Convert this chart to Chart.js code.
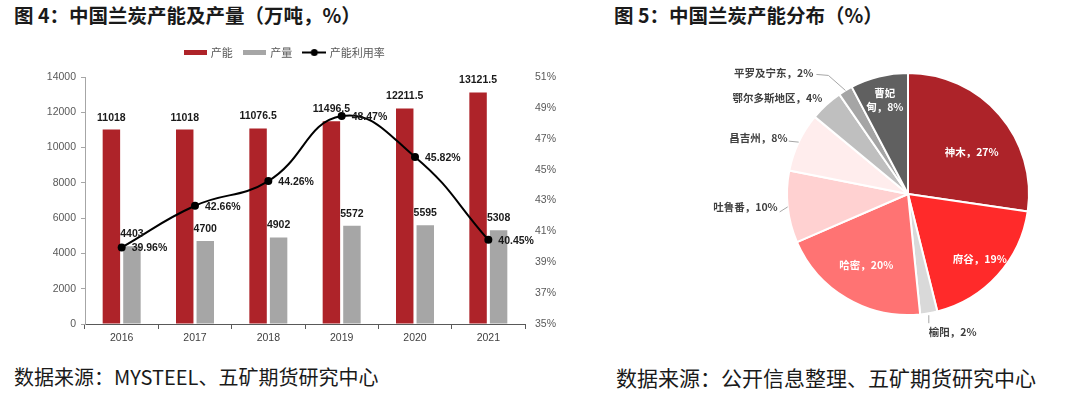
<!DOCTYPE html>
<html>
<head>
<meta charset="utf-8">
<script src="https://cdn.jsdelivr.net/npm/chart.js@4/dist/chart.umd.min.js"></script>
<style>
  body { margin: 0; background: #fff; width: 1080px; height: 397px; overflow: hidden; position: relative; font-family: "Noto Sans CJK SC", sans-serif; }
  .title { position: absolute; top: 1px; font-size: 19.5px; font-weight: bold; line-height: 28px; color: #1a1a1a; white-space: nowrap; }
  .source { position: absolute; top: 363px; font-size: 20.5px; line-height: 28px; color: #1a1a1a; white-space: nowrap; }
  #barWrap { position: absolute; left: 0; top: 35px; width: 570px; height: 325px; }
  #pieWrap { position: absolute; left: 660px; top: 40px; width: 420px; height: 320px; }
</style>
</head>
<body>
<div class="title" style="left:14px">图 4：中国兰炭产能及产量（万吨，%）</div>
<div class="title" style="left:614px">图 5：中国兰炭产能分布（%）</div>
<div id="barWrap"><canvas id="barChart" width="570" height="325"></canvas></div>
<div id="pieWrap"><canvas id="pieChart" width="420" height="320"></canvas></div>
<div class="source" style="left:14px;font-size:20px">数据来源：MYSTEEL、五矿期货研究中心</div>
<div class="source" style="left:616px;font-size:21px">数据来源：公开信息整理、五矿期货研究中心</div>

<script>
// ---- figure 4 data
const years = ['2016', '2017', '2018', '2019', '2020', '2021'];
const capacity = [11018, 11018, 11076.5, 11496.5, 12211.5, 13121.5];
const output = [4403, 4700, 4902, 5572, 5595, 5308];
const utilization = [39.96, 42.66, 44.26, 48.47, 45.82, 40.45];
const leftTicks = [0, 14000, 2000];
const rightTicks = [35, 51, 2];

// ---- figure 5 data
const regions = ['神木', '府谷', '榆阳', '哈密', '吐鲁番', '昌吉州', '鄂尔多斯地区', '平罗及宁东', '曹妃甸'];
const shares = [27.3, 18.8, 2.3, 20.1, 9.6, 7.9, 4.4, 1.9, 7.7];

const RED = '#AE2329';
const GRAY = '#A6A6A6';
const numFont = 'bold 10.5px "Liberation Sans", Arial, sans-serif';
const tickFont = { size: 10.5, family: '"Liberation Sans", Arial, sans-serif' };

function swatch(w, h, draw) {
  const c = document.createElement('canvas');
  c.width = w; c.height = h;
  draw(c.getContext('2d'));
  return c;
}
const redSwatch = swatch(23, 5, ctx => { ctx.fillStyle = RED; ctx.fillRect(0, 0, 23, 5); });
const graySwatch = swatch(23, 5, ctx => { ctx.fillStyle = GRAY; ctx.fillRect(0, 0, 23, 5); });
const lineSwatch = swatch(24, 9, ctx => {
  ctx.strokeStyle = '#000'; ctx.lineWidth = 2;
  ctx.beginPath(); ctx.moveTo(0, 4.5); ctx.lineTo(24, 4.5); ctx.stroke();
  ctx.fillStyle = '#000'; ctx.beginPath(); ctx.arc(12, 4.5, 3.5, 0, Math.PI * 2); ctx.fill();
});

const barLabels = {
  id: 'barLabels',
  beforeInit(chart) {
    const fit = chart.legend.fit;
    chart.legend.fit = function () { fit.call(this); this.height = 42; };
  },
  afterDatasetsDraw(chart) {
    const ctx = chart.ctx;
    ctx.save();
    ctx.font = numFont;
    ctx.fillStyle = '#1a1a1a';
    ctx.textBaseline = 'middle';
    ctx.textAlign = 'left';
    chart.getDatasetMeta(2).data.forEach((pt, i) => {
      ctx.fillText(utilization[i].toFixed(2) + '%', pt.x + 10, pt.y + 1);
    });
    ctx.textAlign = 'center';
    [0, 1].forEach(d => {
      const vals = d === 0 ? capacity : output;
      chart.getDatasetMeta(d).data.forEach((bar, i) => {
        ctx.fillText(String(vals[i]), bar.x, bar.y - 12);
      });
    });
    ctx.restore();
  }
};

new Chart(document.getElementById('barChart'), {
  type: 'bar',
  data: {
    labels: years,
    datasets: [
      { label: '产能', data: capacity, backgroundColor: RED, yAxisID: 'y', order: 1,
        categoryPercentage: 0.56, barPercentage: 0.85 },
      { label: '产量', data: output, backgroundColor: GRAY, yAxisID: 'y', order: 1,
        categoryPercentage: 0.56, barPercentage: 0.85 },
      { type: 'line', label: '产能利用率', data: utilization, yAxisID: 'y1', order: 0,
        borderColor: '#000', borderWidth: 2, backgroundColor: '#000',
        pointRadius: 4, pointBackgroundColor: '#000', pointBorderWidth: 0,
        tension: 0.45, fill: false }
    ]
  },
  options: {
    responsive: false,
    animation: false,
    layout: { padding: 0 },
    plugins: {
      tooltip: { enabled: false },
      legend: {
        position: 'top',
        labels: {
          usePointStyle: true,
          pointStyleWidth: 20,
          padding: 12,
          color: '#595959',
          font: { size: 11, family: '"Noto Sans CJK SC", sans-serif' },
          generateLabels() {
            return [
              { text: '产能', pointStyle: redSwatch, fontColor: '#595959', lineWidth: 0, datasetIndex: 0 },
              { text: '产量', pointStyle: graySwatch, fontColor: '#595959', lineWidth: 0, datasetIndex: 1 },
              { text: '产能利用率', pointStyle: lineSwatch, fontColor: '#595959', lineWidth: 0, datasetIndex: 2 }
            ];
          }
        }
      }
    },
    scales: {
      x: {
        afterFit(s) { s.height = 36; },
        grid: { drawOnChartArea: false, tickLength: 5, color: '#595959' },
        border: { color: '#595959', width: 1 },
        ticks: { color: '#404040', padding: 3, font: tickFont }
      },
      y: {
        position: 'left',
        min: leftTicks[0], max: leftTicks[1],
        afterFit(s) { s.width = 85; },
        grid: { drawOnChartArea: false, tickLength: 4, color: '#A6A6A6' },
        border: { color: '#A6A6A6' },
        ticks: { stepSize: leftTicks[2], color: '#595959', padding: 5, font: tickFont,
          callback: v => String(v) }
      },
      y1: {
        position: 'right',
        min: rightTicks[0], max: rightTicks[1],
        afterFit(s) { s.width = 45; },
        grid: { display: false, drawTicks: false },
        border: { display: false },
        ticks: { stepSize: rightTicks[2], color: '#595959', padding: 10, font: tickFont,
          callback: v => v + '%' }
      }
    }
  },
  plugins: [barLabels]
});

// ---- pie
const pieColors = ['#AD2329', '#FF2A2A', '#D9D9D9', '#FF7373', '#FFD1D1', '#FFEDED', '#BFBFBF', '#A5A5A5', '#606060'];
// label placement: inside labels at fraction r of radius; outside ones relative to the arc edge
const pieLabelLayout = [
  { inside: true, r: 0.63, dx: 6, dy: 8 },
  { inside: true, r: 0.8, dx: 0, dy: 0 },
  { inside: false, dx: 0, dy: 19, align: 'left', leader: [[0, 2], [0, 10]] },
  { inside: true, r: 0.68, dx: 0, dy: 0 },
  { inside: false, dx: -10, dy: 0, align: 'right', leader: [[0, 0], [-8, 5]] },
  { inside: false, dx: -11, dy: -4, align: 'right', leader: [[0, 0], [-10, -1]] },
  { inside: false, dx: -4, dy: -7, align: 'right' },
  { inside: false, dx: -32, dy: -17, align: 'right', leader: [[0, 0], [-17, -15], [-29, -16]] },
  { inside: true, r: 0.8, dx: 0, dy: 0, wrap: 2 }
];

const pieLabels = {
  id: 'pieLabels',
  afterDatasetsDraw(chart) {
    const ctx = chart.ctx;
    const total = shares.reduce((a, b) => a + b, 0);
    ctx.save();
    ctx.font = 'bold 10.5px "Noto Sans CJK SC", sans-serif';
    ctx.textBaseline = 'middle';
    chart.getDatasetMeta(0).data.forEach((arc, i) => {
      const lay = pieLabelLayout[i];
      const text = regions[i] + '，' + Math.round(shares[i] / total * 100) + '%';
      const mid = (arc.startAngle + arc.endAngle) / 2;
      if (lay.inside) {
        const r = arc.outerRadius * lay.r;
        const x = arc.x + Math.cos(mid) * r + lay.dx;
        const y = arc.y + Math.sin(mid) * r + lay.dy;
        ctx.fillStyle = '#fff';
        ctx.textAlign = 'center';
        if (lay.wrap) {
          ctx.fillText(text.slice(0, lay.wrap), x, y - 7);
          ctx.fillText(text.slice(lay.wrap), x, y + 7);
        } else {
          ctx.fillText(text, x, y);
        }
      } else {
        const ex = arc.x + Math.cos(mid) * arc.outerRadius;
        const ey = arc.y + Math.sin(mid) * arc.outerRadius;
        if (lay.leader) {
          ctx.strokeStyle = '#A6A6A6';
          ctx.lineWidth = 1;
          ctx.beginPath();
          lay.leader.forEach(([lx, ly], k) => {
            if (k === 0) ctx.moveTo(ex + lx, ey + ly); else ctx.lineTo(ex + lx, ey + ly);
          });
          ctx.stroke();
        }
        ctx.fillStyle = '#404040';
        ctx.textAlign = lay.align;
        ctx.fillText(text, ex + lay.dx, ey + lay.dy);
      }
    });
    ctx.restore();
  }
};

new Chart(document.getElementById('pieChart'), {
  type: 'pie',
  data: {
    labels: regions,
    datasets: [{ data: shares, backgroundColor: pieColors, borderColor: '#fff', borderWidth: 2 }]
  },
  options: {
    responsive: false,
    animation: false,
    radius: 121,
    layout: { padding: { left: 127, top: 33, right: 51, bottom: 45 } },
    plugins: { legend: { display: false }, tooltip: { enabled: false } }
  },
  plugins: [pieLabels]
});
</script>
</body>
</html>
